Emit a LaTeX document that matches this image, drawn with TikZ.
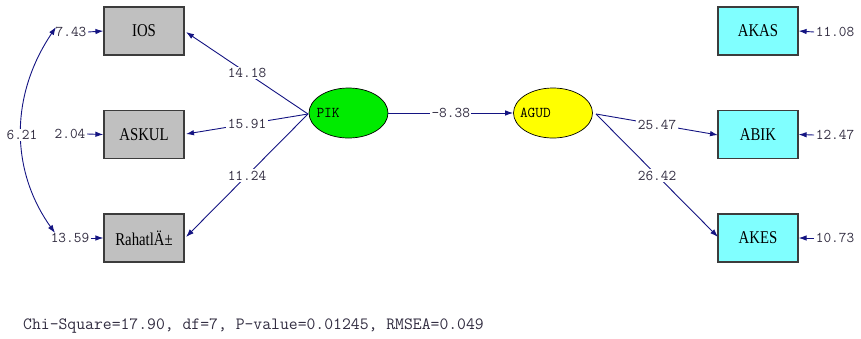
\documentclass[tikz,border=0pt]{standalone}
\usepackage{fontspec}
\setmainfont{Liberation Serif}
\usetikzlibrary{arrows.meta,shapes.geometric}
\definecolor{navyline}{RGB}{20,20,130}
\definecolor{lbltext}{RGB}{50,45,65}
\definecolor{boxgray}{RGB}{192,192,192}
\definecolor{boxcyan}{RGB}{128,255,255}
\definecolor{latgreen}{RGB}{0,235,0}
\definecolor{latyellow}{RGB}{255,255,0}
\newcommand{\bxtext}[1]{\scalebox{0.82}[1]{\fontsize{18}{18}\selectfont #1}}
\tikzset{
  obs/.style={draw={rgb,255:red,60;green,60;blue,60}, line width=1.2pt, minimum width=80pt, minimum height=48pt, inner sep=0pt},
  obsgray/.style={obs, fill=boxgray},
  obscyan/.style={obs, fill=boxcyan},
  lat/.style={ellipse, draw=black, line width=0.7pt, minimum width=79pt, minimum height=50pt, inner sep=0pt, font=\ttfamily\fontsize{15}{15}\selectfont},
  num/.style={font=\ttfamily\fontsize{14.9}{15}\selectfont, text=lbltext, inner sep=1.5pt},
  numw/.style={num, fill=white},
  conn/.style={draw=navyline, line width=0.9pt, -{Latex[length=8pt,width=5.5pt]}},
  dconn/.style={draw=navyline, line width=0.9pt, {Latex[length=8pt,width=5.5pt]}-{Latex[length=8pt,width=5.5pt]}},
}
\begin{document}
\begin{tikzpicture}[x=1pt,y=-1pt]
\useasboundingbox (0,0) rectangle (861,338);
% observed variables
\node[obsgray] (ios) at (144,31) {\bxtext{IOS}};
\node[obsgray] (askul) at (144,134.5) {\bxtext{ASKUL}};
\node[obsgray] (rahat) at (144,238) {\bxtext{RahatlÄ±}};
\node[obscyan] (akas) at (758,31) {\bxtext{AKAS}};
\node[obscyan] (abik) at (758,134.5) {\bxtext{ABIK}};
\node[obscyan] (akes) at (758,238) {\bxtext{AKES}};
% latent variables
\node[lat, fill=latgreen] (pik) at (348.5,113) {\makebox[54pt][l]{\hspace{-5pt}PIK}};
\node[lat, fill=latyellow] (agud) at (553,113) {\makebox[54pt][l]{\hspace{-6pt}AGUD}};
% error variances
\node[num] (e1) at (71,32) {7.43};
\node[num] (e2) at (70,134) {2.04};
\node[num] (e3) at (70,238) {13.59};
\node[num] (e4) at (835,32) {11.08};
\node[num] (e5) at (835,135) {12.47};
\node[num] (e6) at (835,238) {10.73};
\draw[conn] (e1.east) -- (ios.west);
\draw[conn] (e2.east) -- (askul.west);
\draw[conn] (e3.east) -- (rahat.west);
\draw[conn] (e4.west) -- (akas.east);
\draw[conn] (e5.west) -- (abik.east);
\draw[conn] (e6.west) -- (akes.east);
% covariance
\coordinate (c1) at (56,27);
\coordinate (c2) at (55,233);
\draw[dconn] (c1) .. controls (10,95) and (10,170) .. (c2);
\node[numw] (cov) at (22,135) {6.21};
% loadings
\coordinate (pikw) at (308,114);
\coordinate (agude) at (596,114);
\draw[conn] (pikw) -- (186,32) node[numw, midway] (l1) {14.18};
\draw[conn] (pikw) -- (186,134) node[numw, midway] (l2) {15.91};
\draw[conn] (pikw) -- (186,237) node[numw, midway] (l3) {11.24};
\draw[conn] (pik.east) -- (agud.west) node[numw, midway] (l4) {-8.38};
\draw[conn] (agude) -- (718,135) node[numw, midway] (l5) {25.47};
\draw[conn] (agude) -- (718,237) node[numw, midway] (l6) {26.42};
% fit statistics
\node[anchor=west, font=\ttfamily\fontsize{17.2}{17}\selectfont, text=lbltext, inner sep=0pt] (fit) at (23,326) {Chi-Square=17.90, df=7, P-value=0.01245, RMSEA=0.049};
\end{tikzpicture}
\end{document}
